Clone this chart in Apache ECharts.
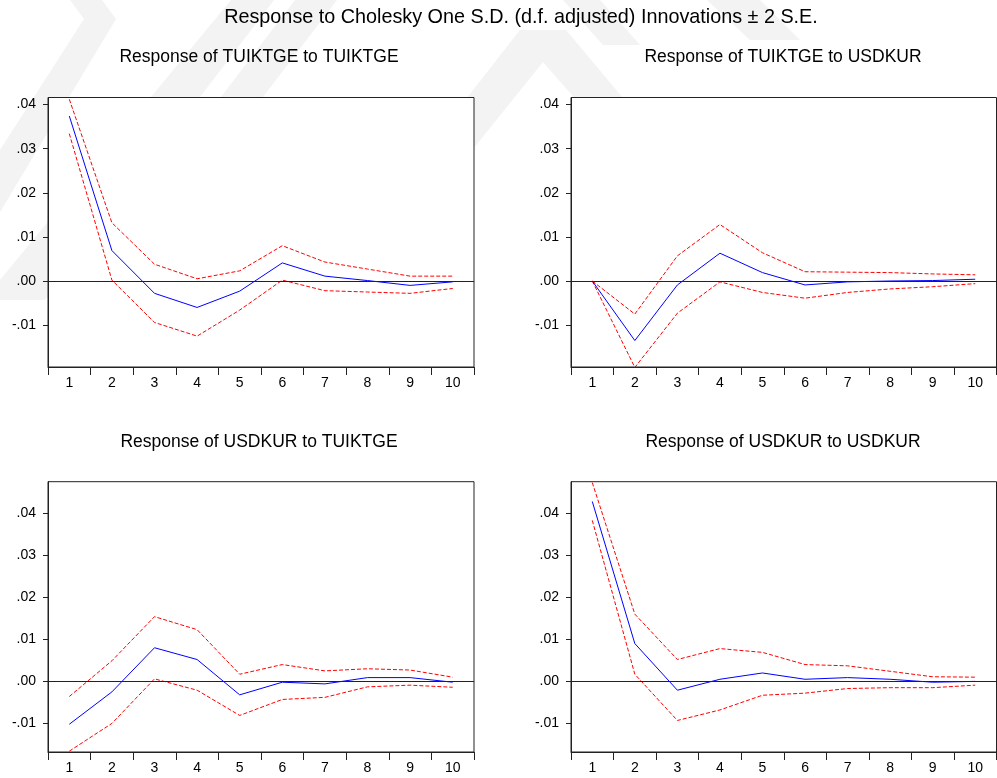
<!DOCTYPE html>
<html>
<head>
<meta charset="utf-8">
<script src="https://cdn.jsdelivr.net/npm/echarts@6/dist/echarts.min.js"></script>
<style>
  html, body { margin: 0; padding: 0; background: #fff; }
</style>
</head>
<body>

<div id="main" style="width: 997px;height:778px;"></div>

<script type="text/javascript">
    // periods
    var steps = ['1', '2', '3', '4', '5', '6', '7', '8', '9', '10'];

    // Response of TUIKTGE to TUIKTGE
    var ttResp  = [0.0374, 0.0069, -0.0028, -0.0060, -0.0023, 0.0041, 0.0011, 0.0001, -0.0010, -0.0002];
    var ttUpper = [0.0412, 0.0132, 0.0038, 0.0005, 0.0023, 0.0080, 0.0043, 0.0027, 0.0011, 0.0011];
    var ttLower = [0.0334, 0.0002, -0.0094, -0.0125, -0.0066, 0.0002, -0.0022, -0.0025, -0.0028, -0.0017];

    // Response of TUIKTGE to USDKUR
    var tuResp  = [0, -0.0135, -0.0009, 0.0063, 0.0019, -0.0009, -0.0002, 0.0000, 0.0001, 0.0004];
    var tuUpper = [0, -0.0075, 0.0057, 0.0128, 0.0064, 0.0021, 0.0020, 0.0019, 0.0016, 0.0014];
    var tuLower = [0, -0.0196, -0.0073, -0.0002, -0.0026, -0.0039, -0.0026, -0.0018, -0.0013, -0.0006];

    // Response of USDKUR to TUIKTGE
    var utResp  = [-0.0102, -0.0025, 0.0080, 0.0052, -0.0032, -0.0002, -0.0006, 0.0009, 0.0009, -0.0002];
    var utUpper = [-0.0036, 0.0049, 0.0154, 0.0123, 0.0017, 0.0040, 0.0025, 0.0030, 0.0027, 0.0010];
    var utLower = [-0.0166, -0.0100, 0.0006, -0.0021, -0.0081, -0.0043, -0.0038, -0.0013, -0.0009, -0.0014];

    // Response of USDKUR to USDKUR
    var uuResp  = [0.0428, 0.0090, -0.0021, 0.0005, 0.0020, 0.0005, 0.0009, 0.0005, -0.0002, 0.0000];
    var uuUpper = [0.0473, 0.0160, 0.0052, 0.0078, 0.0069, 0.0040, 0.0037, 0.0024, 0.0011, 0.0010];
    var uuLower = [0.0383, 0.0017, -0.0093, -0.0068, -0.0033, -0.0028, -0.0017, -0.0015, -0.0015, -0.0009];

    var yTicks = [-0.01, 0, 0.01, 0.02, 0.03, 0.04];

    var mainTitle = 'Response to Cholesky One S.D. (d.f. adjusted) Innovations \u00b1 2 S.E.';
    var panelTitles = [
        'Response of TUIKTGE to TUIKTGE',
        'Response of TUIKTGE to USDKUR',
        'Response of USDKUR to TUIKTGE',
        'Response of USDKUR to USDKUR'
    ];
    var panels = [
        [ttResp, ttUpper, ttLower],
        [tuResp, tuUpper, tuLower],
        [utResp, utUpper, utLower],
        [uuResp, uuUpper, uuLower]
    ];

    var FONT = '"Liberation Sans", Arial, sans-serif';

    var grids = [
        {left: 48, top: 97.5, width: 426, height: 269.5},
        {left: 571, top: 97.5, width: 425.5, height: 269.5},
        {left: 48, top: 481.7, width: 426, height: 270.3},
        {left: 571, top: 481.7, width: 425.5, height: 270.3}
    ];
    var yRanges = [
        [-0.0195, 0.0416],
        [-0.0195, 0.0416],
        [-0.0168, 0.0475],
        [-0.0168, 0.0475]
    ];
    var titlePos = [[259, 57], [783, 57], [259, 442], [783, 442]];

    function fmt(v) {
        var s = Math.abs(v).toFixed(2).replace(/^0/, '');
        return (v < -1e-9 ? '-' : '') + s;
    }

    var myChart = echarts.init(document.getElementById('main'));

    var option = {
        backgroundColor: '#fff',
        animation: false,
        grid: [],
        xAxis: [],
        yAxis: [],
        series: [],
        graphic: []
    };

    // faint watermark behind the panels
    var wm = [
        [[70, 0], [102, 0], [116, 19], [0, 212], [0, 150], [84, 19]],
        [[231, 0], [274, 0], [45, 300], [0, 300], [0, 280]],
        [[295, 0], [337, 0], [150, 245], [108, 245]],
        [[520, 30], [566, 30], [700, 190], [655, 190], [543, 62], [440, 190], [395, 190]],
        [[563, 0], [600, 0], [640, 45], [603, 45]],
        [[707, 0], [760, 0], [800, 40], [750, 40]]
    ];
    wm.forEach(function (pts) {
        option.graphic.push({
            type: 'polygon',
            z: -10,
            silent: true,
            shape: {points: pts},
            style: {fill: '#f3f3f3'}
        });
    });

    option.graphic.push({
        type: 'text',
        x: 521, y: 18,
        z: 10,
        style: {
            text: mainTitle,
            font: '19.8px ' + FONT,
            fill: '#000',
            align: 'center',
            verticalAlign: 'middle'
        }
    });

    panels.forEach(function (p, i) {
        option.graphic.push({
            type: 'text',
            x: titlePos[i][0], y: titlePos[i][1],
            z: 10,
            style: {
                text: panelTitles[i],
                font: '17.5px ' + FONT,
                fill: '#000',
                align: 'center',
                verticalAlign: 'middle'
            }
        });

        option.grid.push({
            left: grids[i].left,
            top: grids[i].top,
            width: grids[i].width,
            height: grids[i].height,
            show: true,
            backgroundColor: '#fff',
            borderColor: '#222',
            borderWidth: 1
        });

        option.xAxis.push({
            type: 'category',
            gridIndex: i,
            data: steps,
            boundaryGap: true,
            position: 'bottom',
            axisLine: {show: true, onZero: false, lineStyle: {color: '#222', width: 1}},
            axisTick: {show: true, length: 8, inside: false, lineStyle: {color: '#222'}},
            axisLabel: {margin: 9, color: '#000', fontSize: 14, fontFamily: FONT},
            splitLine: {show: false}
        });

        option.yAxis.push({
            type: 'value',
            gridIndex: i,
            min: yRanges[i][0],
            max: yRanges[i][1],
            axisLine: {show: true, onZero: false, lineStyle: {color: '#222', width: 1}},
            axisTick: {show: true, length: 5, customValues: yTicks, lineStyle: {color: '#222'}},
            axisLabel: {
                show: true,
                customValues: yTicks,
                margin: 12,
                color: '#000',
                fontSize: 14,
                fontFamily: FONT,
                padding: [0, 0, 6, 0],
                formatter: fmt
            },
            splitLine: {show: false}
        });

        option.series.push({
            name: panelTitles[i] + ' upper',
            type: 'line',
            xAxisIndex: i,
            yAxisIndex: i,
            data: p[1],
            symbol: 'none',
            lineStyle: {color: '#ff0000', width: 1, type: [4, 2]},
            z: 3
        });
        option.series.push({
            name: panelTitles[i] + ' lower',
            type: 'line',
            xAxisIndex: i,
            yAxisIndex: i,
            data: p[2],
            symbol: 'none',
            lineStyle: {color: '#ff0000', width: 1, type: [4, 2]},
            z: 3
        });
        option.series.push({
            name: panelTitles[i],
            type: 'line',
            xAxisIndex: i,
            yAxisIndex: i,
            data: p[0],
            symbol: 'none',
            lineStyle: {color: '#0000ff', width: 1},
            z: 4,
            markLine: {
                silent: true,
                symbol: 'none',
                label: {show: false},
                lineStyle: {color: '#222', width: 1, type: 'solid'},
                data: [{yAxis: 0}]
            }
        });
    });

    myChart.setOption(option);
</script>
</body>
</html>
